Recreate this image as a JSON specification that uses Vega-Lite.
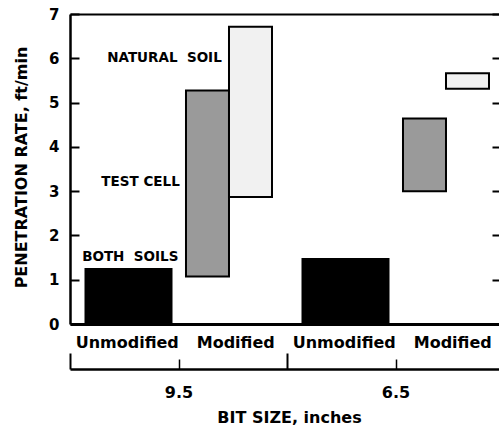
{
  "$schema": "https://vega.github.io/schema/vega-lite/v6.json",
  "width": 429,
  "height": 310,
  "autosize": {"type": "none"},
  "padding": {"left": 70, "top": 14, "right": 0, "bottom": 107},
  "background": "white",
  "config": {
    "view": {"stroke": null},
    "font": "DejaVu Sans"
  },
  "datasets": {
    "bars": [
      {"bit": "9.5", "cond": "Unmodified", "cat": "9.5|Unmodified", "soil": "Both soils", "lo": 0, "hi": 1.24},
      {"bit": "9.5", "cond": "Modified", "cat": "9.5|Modified", "soil": "Test cell", "lo": 1.07, "hi": 5.27},
      {"bit": "9.5", "cond": "Modified", "cat": "9.5|Modified", "soil": "Natural soil", "lo": 2.87, "hi": 6.71},
      {"bit": "6.5", "cond": "Unmodified", "cat": "6.5|Unmodified", "soil": "Both soils", "lo": 0, "hi": 1.47},
      {"bit": "6.5", "cond": "Modified", "cat": "6.5|Modified", "soil": "Test cell", "lo": 3.0, "hi": 4.64},
      {"bit": "6.5", "cond": "Modified", "cat": "6.5|Modified", "soil": "Natural soil", "lo": 5.31, "hi": 5.66}
    ]
  },
  "data": {"name": "bars"},
  "layer": [
    {
      "mark": {"type": "point", "opacity": 0},
      "encoding": {
        "x": {"field": "cat", "type": "nominal", "sort": null,
          "scale": {"domain": ["9.5|Unmodified", "9.5|Modified", "6.5|Unmodified", "6.5|Modified"], "range": [0, 434], "paddingInner": 0, "paddingOuter": 0},
          "axis": {"orient": "top", "domainWidth": 2, "domainColor": "black", "ticks": false, "labels": false, "title": null, "grid": false}},
        "y": {"field": "hi", "type": "quantitative", "scale": {"domain": [0, 7], "nice": false},
          "axis": {"orient": "right", "zindex": 2, "domain": false, "labels": false, "ticks": true, "tickSize": -7, "tickWidth": 2, "tickColor": "black", "title": null, "gridOpacity": 0}}
      }
    },
    {
      "transform": [{"filter": "datum.cond === 'Unmodified'"}],
      "mark": {"type": "bar", "fill": "black", "stroke": "black", "strokeWidth": 2},
      "encoding": {
        "x": {"field": "cat", "type": "nominal", "sort": null,
          "scale": {"domain": ["9.5|Unmodified", "9.5|Modified", "6.5|Unmodified", "6.5|Modified"], "range": [0, 434], "paddingInner": 0, "paddingOuter": 0},
          "axis": {"orient": "bottom", "title": null, "ticks": false, "grid": false, "domainWidth": 3, "domainColor": "black", "labelColor": "black", "labelFont": "DejaVu Sans", "labelExpr": "split(datum.label, '|')[1]", "labelAngle": 0, "labelFontSize": 16, "labelFontWeight": "bold", "labelPadding": 10, "labelOffset": 3}},
        "xOffset": {"field": "soil", "type": "nominal", "scale": {"domain": ["Both soils"], "paddingInner": 0, "paddingOuter": 0.1308, "align": 0.689}},
        "y": {"field": "lo", "type": "quantitative", "scale": {"domain": [0, 7], "nice": false},
          "axis": {"orient": "left", "zindex": 2, "ticks": true, "tickSize": -9, "tickWidth": 2, "tickColor": "black", "gridOpacity": 0, "domainWidth": 2.5, "domainColor": "black", "labelColor": "black", "labelFont": "DejaVu Sans", "labelFontSize": 15, "labelFontWeight": "bold", "labelPadding": 20,
            "title": "PENETRATION RATE, ft/min", "titleColor": "black", "titleFont": "DejaVu Sans", "titleFontSize": 16, "titleFontWeight": "bold", "titleX": -49, "titleY": 153, "titleAngle": 270, "titleAlign": "center", "titleBaseline": "middle"}},
        "y2": {"field": "hi"}
      }
    },
    {
      "transform": [{"filter": "datum.cond === 'Modified'"}],
      "mark": {"type": "bar", "stroke": "black", "strokeWidth": 2},
      "encoding": {
        "x": {"field": "cat", "type": "nominal", "sort": null,
          "scale": {"domain": ["9.5|Unmodified", "9.5|Modified", "6.5|Unmodified", "6.5|Modified"], "range": [0, 434], "paddingInner": 0, "paddingOuter": 0},
          "axis": null},
        "xOffset": {"field": "soil", "type": "nominal", "scale": {"domain": ["Test cell", "Natural soil"], "paddingInner": 0, "paddingOuter": 0.2616, "align": 0.333}},
        "y": {"field": "lo", "type": "quantitative", "scale": {"domain": [0, 7], "nice": false}, "axis": null},
        "y2": {"field": "hi"},
        "fill": {"field": "soil", "type": "nominal", "scale": {"domain": ["Test cell", "Natural soil"], "range": ["#9a9a9a", "#f1f1f1"]}, "legend": null}
      }
    },
    {
      "data": {"values": [{"label": "NATURAL\u00a0 SOIL", "cat": "9.5|Modified", "pos": 6.0}]},
      "mark": {"type": "text", "align": "right", "baseline": "middle", "dx": -11, "fontSize": 13.5, "fontWeight": "bold", "font": "DejaVu Sans", "color": "black"},
      "encoding": {
        "x": {"field": "cat", "type": "nominal", "scale": {"domain": ["9.5|Unmodified", "9.5|Modified", "6.5|Unmodified", "6.5|Modified"], "range": [0, 434], "paddingInner": 0, "paddingOuter": 0}, "axis": null},
        "y": {"field": "pos", "type": "quantitative", "scale": {"domain": [0, 7], "nice": false}, "axis": null},
        "text": {"field": "label"}
      }
    },
    {
      "data": {"values": [{"label": "TEST CELL", "cat": "9.5|Modified", "pos": 3.2}]},
      "mark": {"type": "text", "align": "right", "baseline": "middle", "dx": -53, "fontSize": 13.5, "fontWeight": "bold", "font": "DejaVu Sans", "color": "black"},
      "encoding": {
        "x": {"field": "cat", "type": "nominal", "scale": {"domain": ["9.5|Unmodified", "9.5|Modified", "6.5|Unmodified", "6.5|Modified"], "range": [0, 434], "paddingInner": 0, "paddingOuter": 0}, "axis": null},
        "y": {"field": "pos", "type": "quantitative", "scale": {"domain": [0, 7], "nice": false}, "axis": null},
        "text": {"field": "label"}
      }
    },
    {
      "data": {"values": [{"label": "BOTH\u00a0 SOILS", "cat": "9.5|Unmodified", "pos": 1.51}]},
      "mark": {"type": "text", "align": "center", "baseline": "middle", "dx": 6, "fontSize": 13.5, "fontWeight": "bold", "font": "DejaVu Sans", "color": "black"},
      "encoding": {
        "x": {"field": "cat", "type": "nominal", "scale": {"domain": ["9.5|Unmodified", "9.5|Modified", "6.5|Unmodified", "6.5|Modified"], "range": [0, 434], "paddingInner": 0, "paddingOuter": 0}, "axis": null},
        "y": {"field": "pos", "type": "quantitative", "scale": {"domain": [0, 7], "nice": false}, "axis": null},
        "text": {"field": "label"}
      }
    },
    {
      "mark": {"type": "point", "opacity": 0},
      "encoding": {
        "x": {"field": "bit", "type": "nominal", "sort": null,
          "scale": {"domain": ["9.5", "6.5"], "range": [0, 434], "paddingInner": 0, "paddingOuter": 0},
          "axis": {"orient": "bottom", "offset": 45, "grid": false, "tickBand": "extent", "tickSize": -16, "tickWidth": 2, "tickColor": "black", "domainWidth": 2.5, "domainColor": "black", "labelColor": "black", "labelFont": "DejaVu Sans", "labelAngle": 0, "labelFontSize": 16, "labelFontWeight": "bold", "labelPadding": 31,
            "title": "BIT SIZE, inches", "titleColor": "black", "titleFont": "DejaVu Sans", "titleFontSize": 16, "titleFontWeight": "bold", "titleX": 219, "titleY": 48, "titleBaseline": "middle", "titleAlign": "center"}}
      }
    },
    {
      "mark": {"type": "point", "opacity": 0},
      "encoding": {
        "x": {"field": "bit", "type": "nominal", "sort": null,
          "scale": {"domain": ["9.5", "6.5"], "range": [0, 434], "paddingInner": 0, "paddingOuter": 0},
          "axis": {"orient": "bottom", "offset": 45, "grid": false, "tickSize": -10, "tickWidth": 1.5, "tickColor": "black", "labels": false, "domain": false, "title": null}}
      }
    }
  ],
  "resolve": {
    "scale": {"x": "independent", "xOffset": "independent"},
    "axis": {"x": "independent", "y": "independent"}
  }
}
